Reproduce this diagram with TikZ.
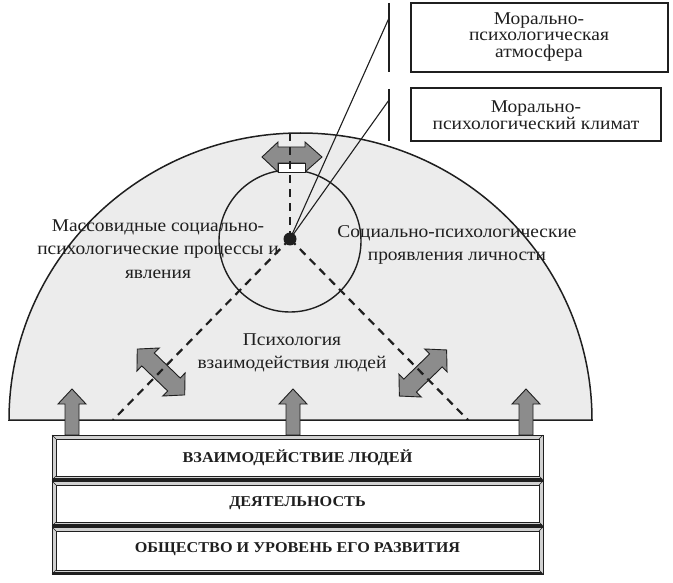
\documentclass[tikz,border=0pt]{standalone}
\usepackage{fontspec}
\setmainfont{Liberation Serif}[FakeStretch=1.08]
\usetikzlibrary{calc}
\definecolor{domefill}{gray}{0.925}
\definecolor{arrowfill}{gray}{0.55}
\definecolor{ink}{gray}{0.12}
\tikzset{
  dome/.style={draw=ink, line width=1.5pt, fill=domefill},
  dashline/.style={draw=ink, line width=2.2pt, dash pattern=on 8pt off 6pt},
  thinline/.style={draw=ink, line width=1.1pt},
  garrow/.style={fill=arrowfill, draw=ink, line width=0.9pt, line join=miter},
  lbl/.style={font=\fontsize{18}{23.5}\selectfont, align=center, text=ink, inner sep=0pt},
  boxlbl/.style={font=\fontsize{18}{16.5}\selectfont, align=center, text=ink, inner sep=0pt},
  bartext/.style={font=\bfseries\fontsize{15}{18}\selectfont, text=ink, inner sep=0pt},
  infobox/.style={draw=ink, line width=1.4pt},
  dblshape/.pic={\path[garrow] (-33,0) -- (-18,-16) -- (-18,-9) -- (18,-9) -- (18,-16) -- (33,0) -- (18,16) -- (18,9) -- (-18,9) -- (-18,16) -- cycle;},
  upshape/.pic={\path[garrow] (0,0) -- (-14,15) -- (-7,15) -- (-7,46) -- (7,46) -- (7,15) -- (14,15) -- cycle;}
}
\newcommand{\barbox}[2]{%
  \path[fill=black!18, draw=ink, line width=0.9pt] (52,#1) rectangle (543,#2);
  \path[fill=white, draw=ink, line width=0.9pt] (56,#1+4) rectangle (539,#2-4);
  \draw[ink, line width=0.6pt] (52,#1) -- (56,#1+4) (543,#1) -- (539,#1+4)
     (52,#2) -- (56,#2-4) (543,#2) -- (539,#2-4);
  \draw[ink, line width=2.4pt] (53,#2-1) -- (542,#2-1);
}
\begin{document}
\begin{tikzpicture}[x=1pt,y=-1pt]
\useasboundingbox (0,0) rectangle (673,583);
% dome
\path[dome] (9,420) arc[start angle=180, end angle=360, x radius=291.5, y radius=287] -- cycle;
% circle
\node[draw=ink, line width=1.4pt, circle, minimum size=142pt, inner sep=0pt, fill=domefill] (circ) at (290,241) {};
% top double arrow
\path[garrow] (262,157) -- (278,142) -- (278,147) -- (305,147) -- (305,142) -- (322,157)
   -- (305,172) -- (305,163) -- (278,163) -- (278,172) -- cycle;
\path[fill=white, draw=ink, line width=0.9pt] (278,163) rectangle (305,172);
% diagonal double arrows
\begin{scope}[shift={(161,372)}, x={(0.719pt,-0.695pt)}, y={(-0.695pt,-0.719pt)}]
  \pic {dblshape};
\end{scope}
\begin{scope}[shift={(423,373)}, x={(0.716pt,0.698pt)}, y={(0.698pt,-0.716pt)}]
  \pic {dblshape};
\end{scope}
% dot and dashed lines
\node[circle, fill=ink, inner sep=0pt, minimum size=13pt] (dot) at (290,239) {};
\coordinate (topend) at (290,133);
\coordinate (leftend) at (113,420);
\coordinate (rightend) at (468,420);
\draw[dashline] (dot.center) -- (topend);
\draw[dashline] (dot.center) -- (leftend);
\draw[dashline] (dot.center) -- (rightend);
% leader lines
\coordinate (v1a) at (389,3);
\coordinate (v1b) at (389,72);
\coordinate (v1m) at (389,18);
\coordinate (v2a) at (389,89);
\coordinate (v2b) at (389,141);
\coordinate (v2m) at (389,100);
\draw[thinline] (v1a) -- (v1b);
\draw[thinline] (v2a) -- (v2b);
\draw[thinline] (dot.center) -- (v1m);
\draw[thinline] (dot.center) -- (v2m);
% up arrows
\pic at (72,389) {upshape};
\pic at (293,389) {upshape};
\pic at (526,389) {upshape};
% bars
\barbox{435}{480}
\barbox{481}{526}
\barbox{527}{574}
\node[bartext] (b1) at (297.5,458) {ВЗАИМОДЕЙСТВИЕ ЛЮДЕЙ};
\node[bartext] (b2) at (297.5,503) {ДЕЯТЕЛЬНОСТЬ};
\node[bartext] (b3) at (297.5,549) {ОБЩЕСТВО И УРОВЕНЬ ЕГО РАЗВИТИЯ};
% labels
\node[lbl] (mass) at (158,249) {Массовидные социально-\\психологические процессы и\\явления};
\node[lbl] (soc) at (457,245) {Социально-психологические\\проявления личности};
\node[lbl] (psy) at (292,353) {Психология\\взаимодействия людей};
% info boxes
\node[infobox, minimum width=257pt, minimum height=69pt, inner sep=0pt] (box1) at (539.5,37.5) {};
\node[boxlbl] (t1) at (539,37) {Морально-\\психологическая\\атмосфера};
\node[infobox, minimum width=250pt, minimum height=53pt, inner sep=0pt] (box2) at (536,114.5) {};
\node[boxlbl] (t2) at (536,115) {Морально-\\психологический климат};
\end{tikzpicture}
\end{document}
